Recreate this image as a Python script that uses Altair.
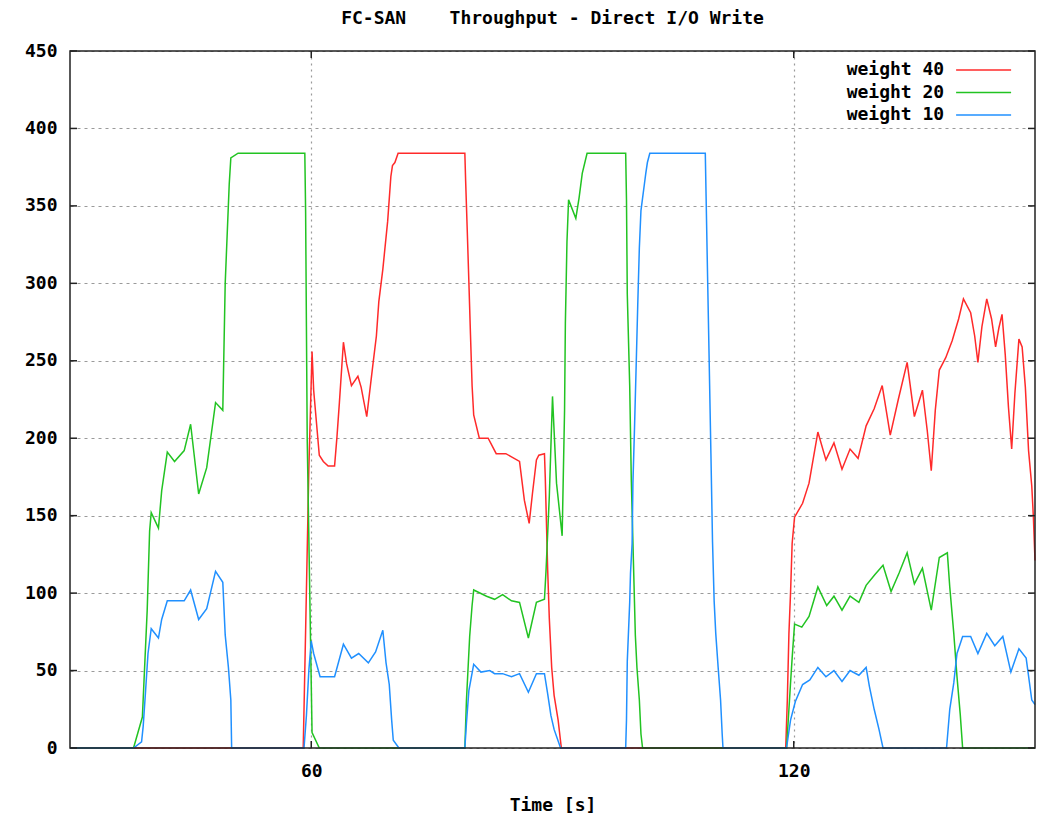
import altair as alt
import pandas as pd

# ---------------- data ----------------
series_names = ["weight 40", "weight 20", "weight 10"]
series_colors = ["#ff2a2a", "#22c322", "#2090ff"]

red_t = [30, 59.0, 59.1, 59.3, 59.5, 59.7, 60.1, 60.3, 61.0, 61.5,
         62.1, 62.9, 63.2, 63.5, 64.0, 64.4, 65.0, 65.8, 66.2, 66.9,
         67.7, 68.1, 68.4, 68.9, 69.5, 69.9, 70.1, 70.4, 70.8, 79.1,
         79.2, 79.4, 79.6, 79.8, 80.0, 80.2, 80.9, 82.0, 83.0, 84.2,
         84.9, 85.9, 86.5, 87.1, 87.5, 88.0, 88.3, 89.0, 89.1, 89.4,
         89.6, 89.9, 90.2, 90.7, 91.1, 119.0, 119.2, 119.4, 119.6, 119.8,
         120.1, 121.1, 121.9, 122.4, 123.0, 124.0, 125.0, 126.0, 127.0, 128.0,
         129.0, 130.0, 131.0, 132.0, 133.0, 134.1, 135.0, 136.0, 136.6, 137.1,
         137.6, 138.1, 138.9, 139.7, 140.5, 141.1, 142.0, 142.5, 142.9, 143.4,
         144.0, 144.6, 145.1, 145.5, 145.9, 146.3, 146.7, 147.1, 147.5, 148.0,
         148.4, 148.8, 149.2, 149.6, 149.8, 150]
red_v = [0, 0, 25, 76, 128, 180, 256, 231, 189, 185,
         182, 182, 201, 223, 262, 248, 234, 240, 233, 214,
         249, 266, 288, 309, 340, 369, 376, 378, 384, 384,
         366, 334, 301, 267, 234, 215, 200, 200, 190, 190,
         188, 185, 160, 145, 164, 186, 189, 190, 175, 115,
         84, 52, 34, 18, 0, 0, 31, 74, 100, 132,
         149, 158, 171, 186, 204, 186, 197, 180, 193, 187,
         208, 219, 234, 202, 225, 249, 214, 231, 205, 179,
         218, 244, 252, 263, 277, 290, 281, 266, 249, 272,
         290, 277, 259, 271, 280, 254, 220, 193, 229, 264,
         259, 233, 192, 169, 149, 121]

green_t = [30, 37.9, 39.0, 39.6, 39.9, 40.1, 41.0, 41.4, 42.1, 43.0,
           44.2, 45.0, 46.0, 47.0, 48.1, 49.0, 49.3, 49.8, 50.0, 50.9,
           59.2, 59.3, 59.4, 59.5, 60.1, 61.0, 79.1, 79.3, 79.7, 80.0,
           80.2, 81.8, 82.8, 83.8, 84.9, 85.9, 87.0, 88.0, 89.0, 89.2,
           89.6, 90.0, 90.5, 91.2, 91.5, 91.6, 91.8, 92.0, 92.9, 93.3,
           93.7, 94.3, 99.1, 99.2, 99.3, 99.6, 99.8, 100.1, 100.3, 100.5,
           100.8, 101.0, 101.2, 119.1, 119.4, 119.6, 119.8, 120.1, 121.0, 121.9,
           123.0, 124.1, 125.0, 126.0, 127.0, 128.1, 129.0, 130.1, 131.1, 132.1,
           133.1, 134.1, 135.0, 136.0, 137.1, 138.1, 139.1, 139.4, 139.9, 140.3,
           140.7, 141.0, 150]
green_v = [0, 0, 20, 89, 140, 152, 142, 166, 191, 185,
           192, 209, 164, 181, 223, 218, 300, 364, 381, 384,
           384, 346, 272, 199, 10, 0, 0, 31, 72, 92,
           102, 98, 96, 99, 95, 94, 71, 94, 96, 115,
           162, 227, 171, 137, 218, 274, 327, 354, 342, 355,
           371, 384, 384, 354, 293, 234, 173, 113, 73, 52,
           31, 9, 0, 0, 25, 42, 58, 80, 78, 85,
           104, 92, 98, 89, 98, 94, 105, 112, 118, 101,
           113, 126, 106, 116, 89, 123, 126, 104, 74, 46,
           22, 0, 0]

blue_t = [30, 37.9, 38.9, 39.1, 39.4, 39.7, 40.1, 41.0, 41.4, 42.1,
          44.2, 45.0, 46.0, 47.0, 48.1, 49.0, 49.3, 49.7, 50.0, 50.1,
          59.1, 59.4, 59.7, 60.0, 60.3, 61.1, 62.9, 64.0, 65.0, 65.9,
          67.1, 68.0, 68.9, 69.3, 69.7, 70.0, 70.2, 70.9, 79.1, 79.3,
          79.6, 80.2, 81.1, 82.2, 82.8, 83.8, 84.9, 85.9, 87.0, 88.0,
          89.0, 89.4, 89.8, 90.2, 90.8, 91.0, 99.1, 99.2, 99.3, 99.6,
          99.7, 99.9, 100.0, 100.2, 100.4, 100.6, 100.8, 101.0, 101.2, 101.4,
          101.6, 101.8, 102.1, 109.0, 109.1, 109.3, 109.5, 109.7, 109.9, 110.1,
          110.3, 110.6, 110.9, 111.1, 111.2, 119.1, 119.6, 120.2, 121.1, 122.0,
          123.0, 124.0, 125.0, 126.0, 127.0, 128.1, 129.0, 129.4, 130.0, 130.6,
          131.1, 139.0, 139.4, 139.9, 140.3, 141.0, 142.0, 142.9, 144.0, 145.0,
          146.0, 147.0, 148.0, 148.9, 149.6, 150]
blue_v = [0, 0, 4, 14, 37, 61, 77, 71, 83, 95,
          95, 102, 83, 90, 114, 107, 73, 52, 31, 0,
          0, 21, 50, 69, 61, 46, 46, 67, 58, 61,
          55, 62, 76, 55, 41, 18, 5, 0, 0, 16,
          37, 54, 49, 50, 48, 48, 46, 48, 36, 48,
          48, 35, 21, 12, 3, 0, 0, 18, 56, 94,
          113, 132, 171, 207, 246, 286, 323, 347, 355, 363,
          371, 378, 384, 384, 356, 300, 245, 190, 133, 95,
          74, 52, 31, 9, 0, 0, 18, 30, 41, 44,
          52, 46, 50, 43, 50, 47, 52, 40, 25, 12,
          0, 0, 25, 42, 61, 72, 72, 61, 74, 66,
          72, 49, 64, 58, 31, 28]

x_domain = [30, 150]
y_domain = [0, 450]
xtick_vals = [60, 120]
ytick_vals = [0, 50, 100, 150, 200, 250, 300, 350, 400, 450]

title_text = "FC-SAN\u00a0\u00a0\u00a0\u00a0Throughput - Direct I/O Write"
x_title = "Time [s]"

# ---------------- build table ----------------
rows = []
for name, ts, vs in zip(series_names, [red_t, green_t, blue_t], [red_v, green_v, blue_v]):
    for t, v in zip(ts, vs):
        rows.append({"time": t, "throughput": v, "series": name})
df = pd.DataFrame(rows)

W, H = 965, 697
FONT = "DejaVu Sans Mono"
FS = 18
GRID = "#9a9a9a"

x_scale = alt.Scale(domain=x_domain, nice=False, zero=False)
y_scale = alt.Scale(domain=y_domain, nice=False)
color_scale = alt.Scale(domain=series_names, range=series_colors)

x_axis = alt.Axis(values=xtick_vals, format="d", grid=True, gridColor=GRID,
                  gridDash=[2, 4], gridWidth=1.2, domain=False, ticks=False,
                  labelPadding=14, labelFont=FONT, labelFontSize=FS,
                  labelFontWeight="bold", labelColor="black",
                  titleFont=FONT, titleFontSize=FS, titleFontWeight="bold",
                  titleColor="black", titlePadding=16)
y_axis = alt.Axis(values=ytick_vals, format="d", grid=True, gridColor=GRID,
                  gridDash=[3, 4], gridWidth=1.2, domain=False, ticks=False,
                  labelPadding=13, labelFont=FONT, labelFontSize=FS,
                  labelFontWeight="bold", labelColor="black")

# long horizontal line sample: path spans 8 units -> 2*sqrt(size) px = 55 px
legend = alt.Legend(title=None, orient="none", legendX=904.6, legendY=10,
                    symbolType="M-4,0H4", symbolSize=189, symbolStrokeWidth=1.5,
                    labelAlign="right", labelOffset={"expr": "-48.4"}, labelFont=FONT,
                    labelFontSize=FS, labelFontWeight="bold", labelColor="black",
                    rowPadding=4.5, padding=0, labelLimit=300)

lines = []
for name in series_names:
    lines.append(
        alt.Chart(df).transform_filter(alt.datum.series == name)
        .mark_line(strokeWidth=1.5)
        .encode(
            x=alt.X("time:Q", scale=x_scale, axis=x_axis, title=x_title),
            y=alt.Y("throughput:Q", scale=y_scale, axis=y_axis, title=None),
            color=alt.Color("series:N", scale=color_scale, legend=legend),
        )
    )

ytick_df = pd.DataFrame({"v": ytick_vals})
xtick_df = pd.DataFrame({"t": xtick_vals})
TK = "#222222"

left_ticks = alt.Chart(ytick_df).mark_rule(color=TK, strokeWidth=1.5).encode(
    y=alt.Y("v:Q", scale=y_scale, axis=y_axis, title=None), x=alt.value(0), x2=alt.value(7))
right_ticks = alt.Chart(ytick_df).mark_rule(color=TK, strokeWidth=1.5).encode(
    y=alt.Y("v:Q", scale=y_scale, axis=y_axis, title=None), x=alt.value(W - 7), x2=alt.value(W))
bottom_ticks = alt.Chart(xtick_df).mark_rule(color=TK, strokeWidth=1.5).encode(
    x=alt.X("t:Q", scale=x_scale, axis=x_axis, title=x_title), y=alt.value(H), y2=alt.value(H - 7))
top_ticks = alt.Chart(xtick_df).mark_rule(color=TK, strokeWidth=1.5).encode(
    x=alt.X("t:Q", scale=x_scale, axis=x_axis, title=x_title), y=alt.value(0), y2=alt.value(7))

frame = alt.Chart(pd.DataFrame({"f": [0]})).mark_rect(
    fillOpacity=0, stroke=TK, strokeWidth=1.5).encode(
    x=alt.value(0), x2=alt.value("width"), y=alt.value(0), y2=alt.value("height"))

chart = alt.layer(*lines, left_ticks, right_ticks, bottom_ticks, top_ticks, frame).properties(
    width=W, height=H,
    title=alt.TitleParams(text=title_text, font=FONT, fontSize=FS, fontWeight="bold",
                          color="black", anchor="middle", frame="group", offset=14),
    padding={"left": 70, "top": 51, "right": 6, "bottom": 71},
    autosize=alt.AutoSizeParams(type="none"),
    background="white",
).configure_view(stroke="transparent")

chart.save("out.html", embed_options={"renderer": "svg", "actions": False})
